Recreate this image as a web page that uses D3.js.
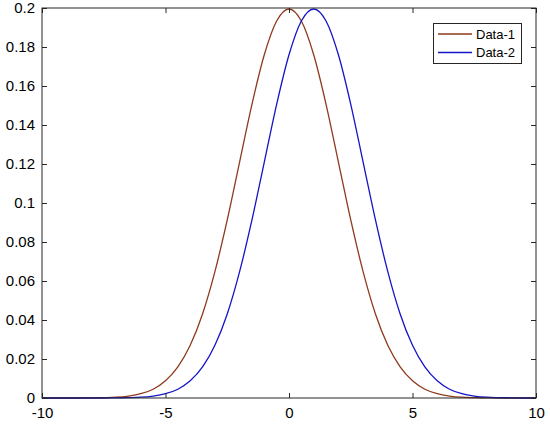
<!DOCTYPE html>
<html><head><meta charset="utf-8">
<script src="https://cdn.jsdelivr.net/npm/d3@7"></script>
<style>body{margin:0;background:#fff;} svg{display:block;}</style>
</head><body><svg id="c" width="550" height="425"></svg>
<script>
const xValues = [-10,-9.5,-9,-8.5,-8,-7.5,-7,-6.5,-6,-5.5,-5,-4.5,-4,-3.5,-3,-2.5,-2,-1.5,-1,-0.5,0,0.5,1,1.5,2,2.5,3,3.5,4,4.5,5,5.5,6,6.5,7,7.5,8,8.5,9,9.5,10];
const data1 = [0,0,0,0,0.0001,0.0002,0.0004,0.0010,0.0022,0.0045,0.0088,0.0159,0.0270,0.0431,0.0648,0.0913,0.1210,0.1506,0.1760,0.1933,0.1995,0.1933,0.1760,0.1506,0.1210,0.0913,0.0648,0.0431,0.0270,0.0159,0.0088,0.0045,0.0022,0.0010,0.0004,0.0002,0.0001,0,0,0,0];
const data2 = [0,0,0,0,0,0,0.0001,0.0002,0.0004,0.0010,0.0022,0.0045,0.0088,0.0159,0.0270,0.0431,0.0648,0.0913,0.1210,0.1506,0.1760,0.1933,0.1995,0.1933,0.1760,0.1506,0.1210,0.0913,0.0648,0.0431,0.0270,0.0159,0.0088,0.0045,0.0022,0.0010,0.0004,0.0002,0.0001,0,0];
const seriesNames = ["Data-1","Data-2"];
const seriesColors = ["#8E3A1C","#1414C8"];
const xTicks = [-10,-5,0,5,10];
const yTicks = [0,0.02,0.04,0.06,0.08,0.1,0.12,0.14,0.16,0.18,0.2];

const svg = d3.select("#c");
const L=42, R=536, T=8, B=398;
const x = d3.scaleLinear().domain([-10,10]).range([L,R]);
const y = d3.scaleLinear().domain([0,0.2]).range([B,T]);
const axisColor = "#262626";
const font = "'Liberation Sans', Arial, sans-serif";

const line = d3.line().x((d,i)=>x(xValues[i])).y(d=>y(d)).curve(d3.curveMonotoneX);
[data1,data2].forEach((s,k)=>{
  svg.append("path").attr("d", line(s)).attr("fill","none")
    .attr("stroke", seriesColors[k]).attr("stroke-width",1.3);
});

function style(g){
  g.select(".domain").remove();
  g.selectAll("line").attr("stroke",axisColor);
  g.selectAll("text").attr("fill","#000").style("font-family",font).style("font-size","15px");
}
const tl = 5;
svg.append("g").attr("transform",`translate(0,${B})`)
  .call(d3.axisBottom(x).tickValues(xTicks).tickSize(-tl).tickPadding(9).tickFormat(d=>String(d)))
  .call(style);
svg.append("g").attr("transform",`translate(0,${T})`)
  .call(d3.axisTop(x).tickValues(xTicks).tickSize(-tl).tickFormat(""))
  .call(style);
svg.append("g").attr("transform",`translate(${L},0)`)
  .call(d3.axisLeft(y).tickValues(yTicks).tickSize(-tl).tickPadding(7).tickFormat(d=>d===0?"0":String(+d.toFixed(2))))
  .call(style);
svg.append("g").attr("transform",`translate(${R},0)`)
  .call(d3.axisRight(y).tickValues(yTicks).tickSize(-tl).tickFormat(""))
  .call(style);

svg.append("rect").attr("x",L).attr("y",T).attr("width",R-L).attr("height",B-T)
  .attr("fill","none").attr("stroke",axisColor).attr("stroke-width",1);

// legend
const lg = svg.append("g");
lg.append("rect").attr("x",433.5).attr("y",23.5).attr("width",88).attr("height",40)
  .attr("fill","#fff").attr("stroke",axisColor).attr("stroke-width",1);
seriesNames.forEach((n,k)=>{
  const yy = 34 + k*18.5;
  lg.append("line").attr("x1",438).attr("x2",472).attr("y1",yy).attr("y2",yy)
    .attr("stroke",seriesColors[k]).attr("stroke-width",1.3);
  lg.append("text").attr("x",476).attr("y",yy+4.5).text(n)
    .style("font-family",font).style("font-size","13px").attr("fill","#000");
});
</script></body></html>
